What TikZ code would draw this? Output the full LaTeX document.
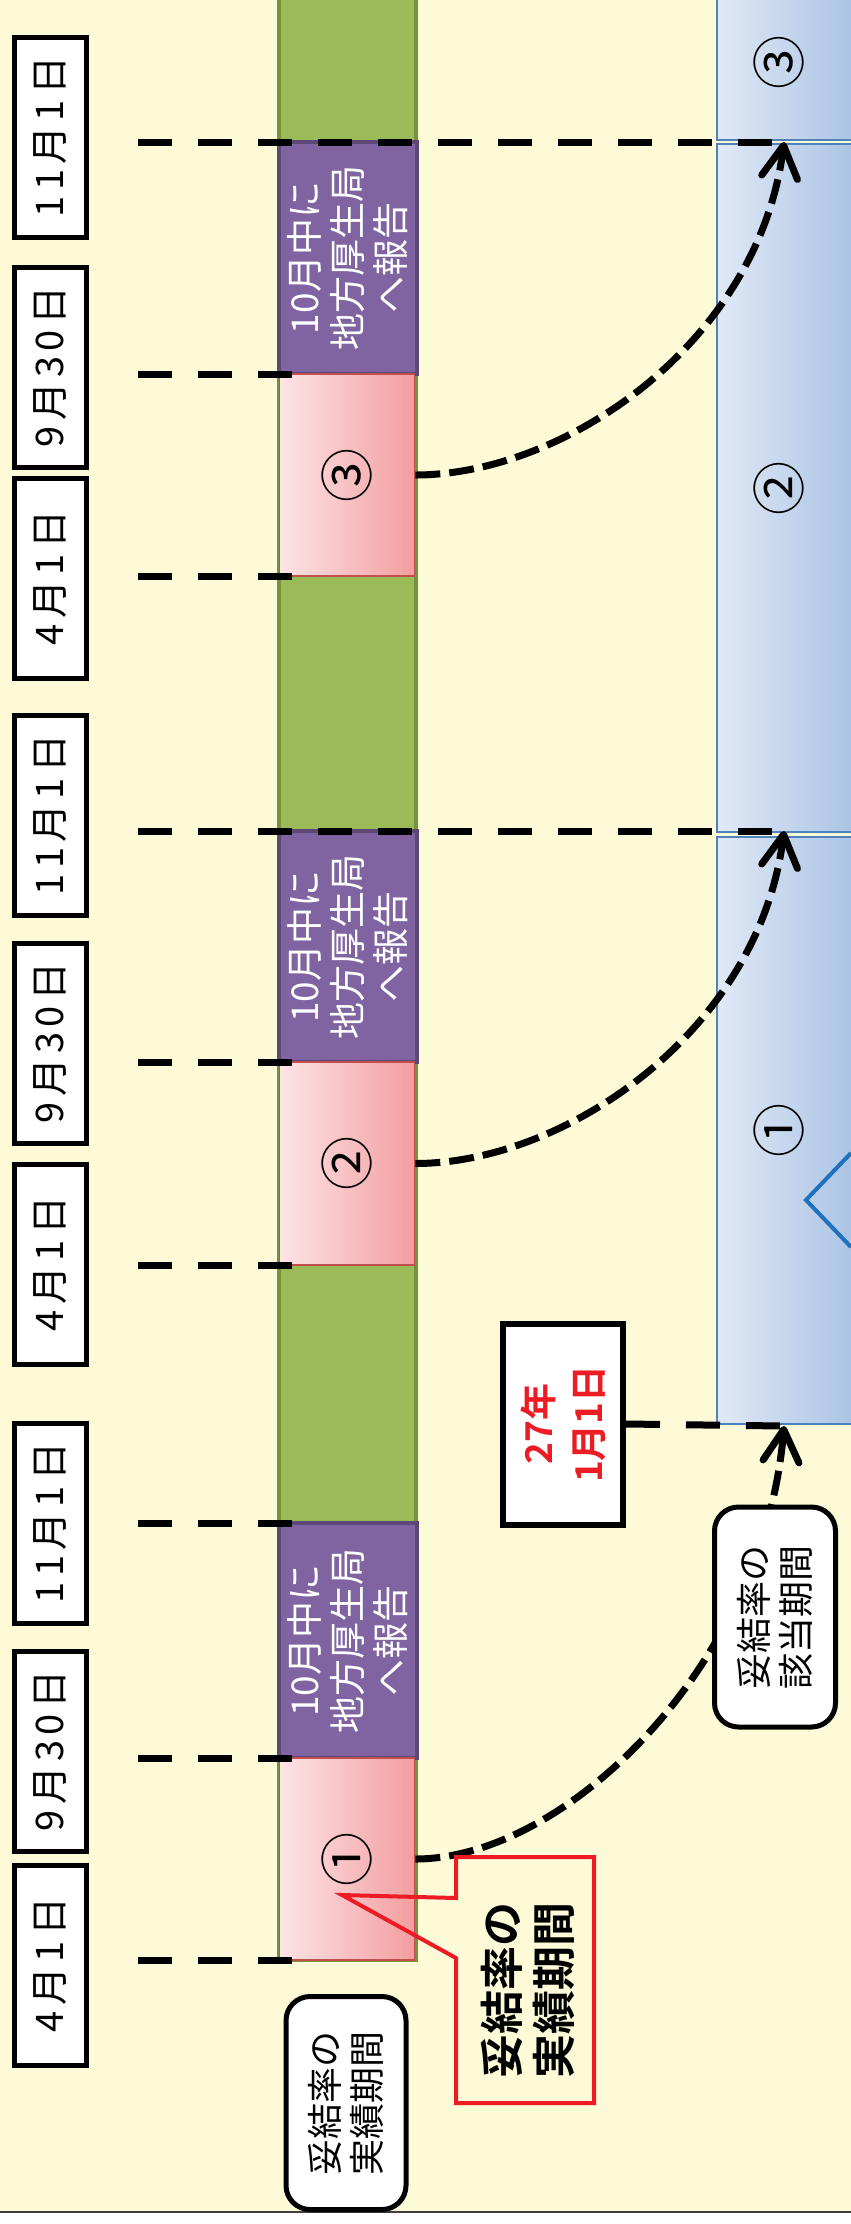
\documentclass[tikz,border=0pt]{standalone}
\usepackage{fontspec}
\setmainfont{Noto Sans CJK JP}[BoldFont={* Bold}]
\usepackage{tikz}
\usetikzlibrary{arrows.meta}

\definecolor{cream}{RGB}{253, 250, 216}
\definecolor{barfill}{RGB}{155, 187, 89}
\definecolor{barline}{RGB}{118, 146, 60}
\definecolor{purplefill}{RGB}{128, 100, 162}
\definecolor{purpleline}{RGB}{92, 71, 118}
\definecolor{pinklight}{RGB}{253, 228, 230}
\definecolor{pinkdark}{RGB}{243, 158, 160}
\definecolor{pinkline}{RGB}{192, 80, 77}
\definecolor{bluelight}{RGB}{225, 233, 246}
\definecolor{bluedark}{RGB}{168, 194, 228}
\definecolor{blueline}{RGB}{79, 129, 189}
\definecolor{chevron}{RGB}{31, 112, 190}
\definecolor{alert}{RGB}{237, 28, 36}

\tikzset{
  datebox/.style={draw, line width=2.5pt, fill=white, rotate=90, inner sep=0pt,
    minimum width=100pt, minimum height=36pt,
    font=\fontsize{19}{22}\selectfont\addfontfeature{LetterSpace=14}},
  report/.style={draw=purpleline, line width=2pt, fill=purplefill, text=white,
    rotate=90, inner sep=0pt, minimum height=69pt, align=center,
    font=\fontsize{18.5}{21.5}\selectfont},
  period/.style={draw=pinkline, line width=0.8pt, left color=pinklight,
    right color=pinkdark, inner sep=0pt, minimum width=67.5pt,
    font=\fontsize{27}{30}\selectfont},
  target/.style={draw=blueline, line width=0.8pt, left color=bluelight,
    right color=bluedark, inner sep=0pt, minimum width=71.5pt},
  num/.style={rotate=90, inner sep=0pt, font=\fontsize{27}{30}\selectfont},
  note/.style={draw, line width=2.5pt, fill=white, rounded corners=12pt, rotate=90,
    inner sep=0pt, align=center, font=\fontsize{18}{21}\selectfont},
  tick/.style={line width=3.5pt, dash pattern=on 17pt off 13pt},
  flow/.style={line width=3.5pt, dash pattern=on 12.5pt off 4.5pt,
    -{Straight Barb[length=16pt, width=18pt, round]}},
}

\begin{document}
\begin{tikzpicture}[x=0.5pt, y=-0.5pt]
  \useasboundingbox (0, 0) rectangle (851, 2224);
  \fill[cream] (0, 0) rectangle (851, 2212);
  \draw[black!75, line width=1pt] (0, 2212) -- (851, 2212);

  \draw[barline, fill=barfill, line width=2pt] (279, -10) rectangle (416, 1960);

  \foreach \n/\a/\b/\c/\m in {3/142/374/576/③, 2/831/1062/1265/②, 1/1523/1758/1960/①} {
    \pgfmathsetmacro{\ha}{(\b - \a) / 2}
    \pgfmathsetmacro{\hb}{(\c - \b) / 2}
    \node[report, minimum width=\ha pt] (r\n) at (348, {(\a + \b) / 2}) {10月中に\\地方厚生局\\へ報告};
    \node[period, minimum height=\hb pt] (p\n) at (347, {(\b + \c) / 2}) {\rotatebox{90}{\m}};
  }

  % blue target periods
  \node[target, minimum height=90pt] (b3) at (788.5, 50) {};
  \node[target, minimum height=344pt] (b2) at (788.5, 488) {};
  \node[target, minimum height=293.5pt] (b1) at (788.5, 1130.5) {};
  \node[num] (n3) at (779, 62) {③};
  \node[num] (n2) at (779, 488) {②};
  \node[num] (n1) at (779, 1130) {①};
  \draw[chevron, line width=2pt] (851, 1153) -- (806, 1200) -- (851, 1247);

  \foreach \y/\t [count=\n] in {137/11月1日, 367/9月30日, 578/4月1日,
                                815/11月1日, 1043/9月30日, 1264/4月1日,
                                1523/11月1日, 1751/9月30日, 1965/4月1日} {
    \node[datebox] (d\n) at (50, \y) {\t};
  }

  \foreach \y in {374, 576, 1062, 1265, 1523, 1758, 1960} {
    \draw[tick] (138, \y) -- (292, \y);
  }

  \coordinate (t3) at (784, 142);
  \coordinate (t2) at (784, 831);
  \coordinate (t1) at (784, 1426);
  \draw[tick] (138, 142) -- (t3);
  \draw[tick] (138, 831) -- (t2);

  \node[datebox, line width=3pt, minimum width=100.5pt, minimum height=60pt,
        text=alert, align=center, font=\bfseries\fontsize{18.5}{25}\selectfont]
        (start) at (563, 1424) {27年\\1月1日};
  \draw[tick] (start.south) -- (t1);

  \draw[flow] (p3.east) .. controls +(150, 0) and +(-25, 200) .. (t3);
  \draw[flow] (p2.east) .. controls +(150, 0) and +(-25, 200) .. (t2);
  \draw[flow] (p1.east) .. controls +(150, 0) and +(-20, 240) .. (t1);

  \node[note, minimum width=110pt, minimum height=60.5pt] (span) at (775, 1617) {妥結率の\\該当期間};
  \node[note, minimum width=106.5pt, minimum height=60pt] (actual) at (346, 2103) {妥結率の\\実績期間};

  % callout
  \node[rotate=90, align=center, inner sep=0pt, font=\bfseries\fontsize{22}{26}\selectfont]
        (callout) at (528, 1990) {妥結率の\\実績期間};
  \coordinate (hook) at (342, 1895);
  \draw[alert, line width=2pt] (456, 1898) -- (456, 1857) -- (594, 1857) -- (594, 2103)
        -- (456, 2103) -- (456, 1958) -- (hook) -- cycle;
\end{tikzpicture}
\end{document}
